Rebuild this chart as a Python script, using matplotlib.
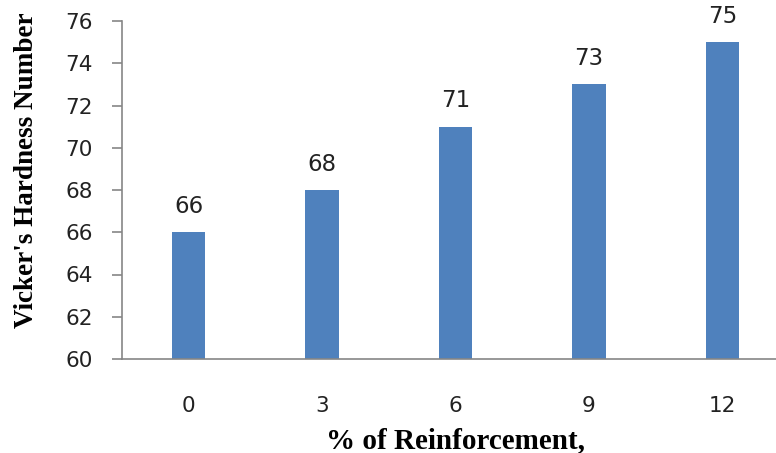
import matplotlib
matplotlib.use("Agg")
import matplotlib.pyplot as plt

categories = ["0", "3", "6", "9", "12"]
values = [66, 68, 71, 73, 75]
yticks = [60, 62, 64, 66, 68, 70, 72, 74, 76]

fig = plt.figure(figsize=(7.76, 4.53), dpi=100)
W, H = 776, 453
left, right, top, bottom = 122, 789, 21, 359
ax = fig.add_axes([left / W, 1 - bottom / H, (right - left) / W, (bottom - top) / H])

x = list(range(len(categories)))
ax.bar(x, values, width=0.25, color="#4f81bd")
ax.set_xlim(-0.5, len(categories) - 0.5)
ax.set_ylim(60, 76)
ax.set_yticks(yticks)
ax.set_yticklabels([str(v) for v in yticks])
ax.set_xticks(x)
ax.set_xticklabels(categories)

for xi, v in zip(x, values):
    ax.annotate(str(v), (xi, v), xytext=(0, 14), textcoords="offset points",
                ha="center", va="baseline", fontsize=16.5, family="DejaVu Sans",
                color="#222222")

for s in ["top", "right"]:
    ax.spines[s].set_visible(False)
for s in ["left", "bottom"]:
    ax.spines[s].set_color("#868686")
    ax.spines[s].set_linewidth(1.2)

ax.tick_params(axis="y", direction="out", length=7, width=1.2, color="#868686",
               labelsize=15.5, pad=14, labelcolor="#222222")
ax.tick_params(axis="x", length=0, labelsize=15.5, pad=26.5, labelcolor="#222222")

fig.text(27 / W, 1 - 170 / H, "Vicker's Hardness Number", rotation=90,
         ha="center", va="center", family="Liberation Serif", fontweight="bold",
         fontsize=19.5, color="black")
fig.text(455 / W, 1 - 448 / H, "% of Reinforcement,", ha="center", va="baseline",
         family="Liberation Serif", fontweight="bold", fontsize=21, color="black")

fig.savefig("out.png", dpi=100)
